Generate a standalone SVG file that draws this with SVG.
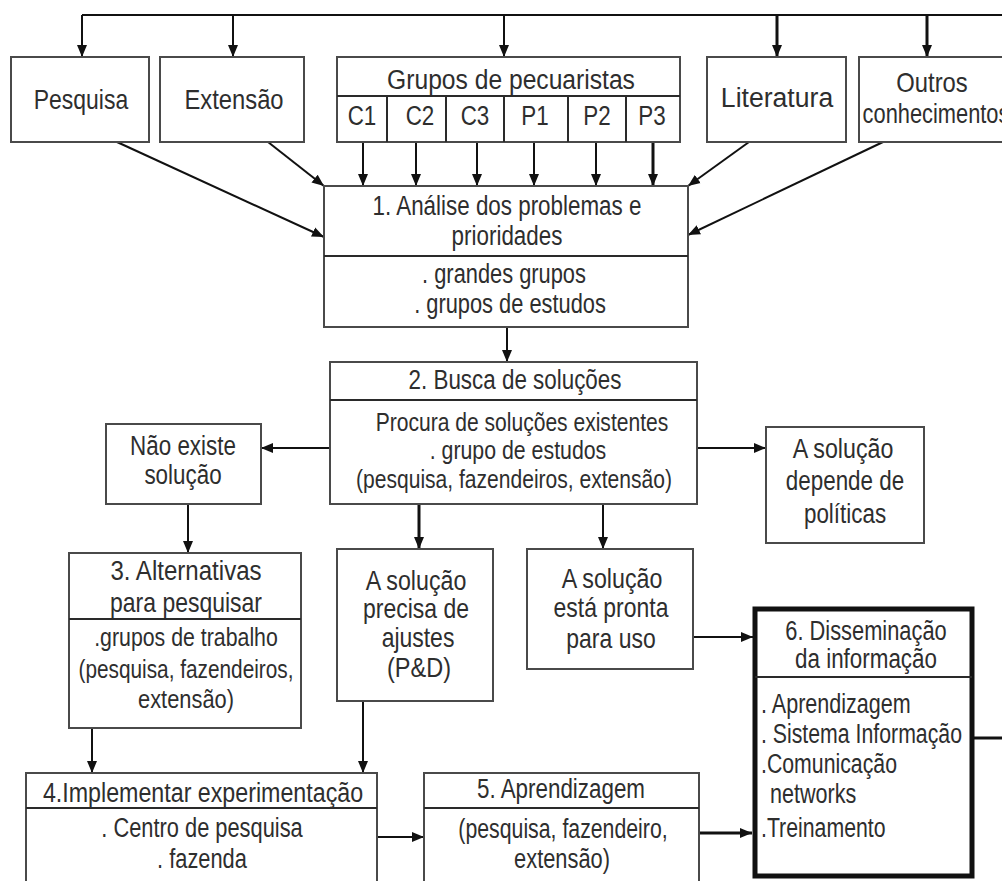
<svg xmlns="http://www.w3.org/2000/svg" width="1002" height="881" viewBox="0 0 1002 881">
<style>
.b{fill:#fff;stroke:#4a4a4a;stroke-width:2}
.d{stroke:#2a2a2a;stroke-width:2;fill:none}
.t{font-family:"Liberation Sans",Arial,sans-serif;font-size:28px;fill:#2e2e2e;text-anchor:middle}
.s{font-size:26px}
.l{text-anchor:start}
.c{stroke:#111;stroke-width:2;fill:none}
.a{marker-end:url(#ah)}
.k{stroke-width:3}
</style>
<defs>
<marker id="ah" markerUnits="userSpaceOnUse" markerWidth="12" markerHeight="12" viewBox="0 0 12 12" refX="12" refY="6" orient="auto">
<path d="M0,1 L12,6 L0,11 Z" fill="#111"/>
</marker>
</defs>
<rect width="1002" height="881" fill="#fff"/>

<g id="connectors">
<path class="c" d="M82 15 H1002"/>
<path class="c a" d="M82 15 V57"/>
<path class="c a" d="M233 15 V57"/>
<path class="c a" d="M504 15 V57"/>
<path class="c a k" d="M777 15 V57"/>
<path class="c a k" d="M927 15 V57"/>
<path class="c a" d="M363 142 V186"/>
<path class="c a" d="M416 142 V186"/>
<path class="c a" d="M477 142 V186"/>
<path class="c a" d="M534 142 V186"/>
<path class="c a" d="M596 142 V186"/>
<path class="c a k" d="M653 142 V186"/>
<path class="c a" d="M117 142 L324 237"/>
<path class="c a" d="M268 142 L324 186"/>
<path class="c a" d="M749 142 L688 186"/>
<path class="c a" d="M883 142 L688 235"/>
<path class="c a" d="M507 327 V362"/>
<path class="c a" d="M330 448 H261"/>
<path class="c a" d="M697 448 H766"/>
<path class="c a" d="M188 504 V553"/>
<path class="c a k" d="M419 504 V549"/>
<path class="c a" d="M603 504 V549"/>
<path class="c a" d="M693 637 H753"/>
<path class="c a" d="M92 728 V773"/>
<path class="c a" d="M363 701 V773"/>
<path class="c a" d="M378 837 H424"/>
<path class="c a k" d="M699 833 H752"/>
<path class="c k" d="M974 738 H1002"/>
</g>

<g id="pesquisa">
<rect class="b" x="11" y="57" width="138" height="85"/>
<text class="t" transform="translate(81,109) scale(.82,1)">Pesquisa</text>
</g>
<g id="extensao">
<rect class="b" x="160" y="57" width="144" height="85"/>
<text class="t" transform="translate(234,109) scale(.85,1)">Extensão</text>
</g>
<g id="grupos">
<rect class="b" x="337" y="57" width="343" height="85"/>
<path class="d" d="M337 96 H680 M387 96 V142 M504 96 V142 M568 96 V142 M626 96 V142"/>
<path class="d" d="M446 96 V142" stroke-width="3"/>
<text class="t" transform="translate(511,89) scale(.88,1)">Grupos de pecuaristas</text>
<text class="t" transform="translate(362,125) scale(.8,1)">C1</text>
<text class="t" transform="translate(420,125) scale(.8,1)">C2</text>
<text class="t" transform="translate(475,125) scale(.8,1)">C3</text>
<text class="t" transform="translate(535,125) scale(.8,1)">P1</text>
<text class="t" transform="translate(597,125) scale(.8,1)">P2</text>
<text class="t" transform="translate(652,125) scale(.8,1)">P3</text>
</g>
<g id="literatura">
<rect class="b" x="707" y="57" width="139" height="85"/>
<text class="t" transform="translate(777,107) scale(.95,1)">Literatura</text>
</g>
<g id="outros">
<rect class="b" x="859" y="57" width="160" height="85"/>
<text class="t" transform="translate(932,92) scale(.85,1)">Outros</text>
<text class="t" transform="translate(936,123) scale(.78,1)">conhecimentos</text>
</g>

<g id="box1">
<rect class="b" x="324" y="186" width="364" height="141"/>
<path class="d" d="M324 256 H688"/>
<text class="t" transform="translate(507,215) scale(.8,1)">1. Análise dos problemas e</text>
<text class="t" transform="translate(507,245) scale(.8,1)">prioridades</text>
<text class="t" transform="translate(504,283) scale(.78,1)">. grandes grupos</text>
<text class="t" transform="translate(510,313) scale(.78,1)">. grupos de estudos</text>
</g>

<g id="box2">
<rect class="b" x="330" y="362" width="367" height="142"/>
<path class="d" d="M330 400 H697"/>
<text class="t" transform="translate(515,389) scale(.8,1)">2. Busca de soluções</text>
<text class="t s" transform="translate(522,431) scale(.81,1)">Procura de soluções existentes</text>
<text class="t s" transform="translate(518,459) scale(.82,1)">. grupo de estudos</text>
<text class="t s" transform="translate(514,488) scale(.81,1)">(pesquisa, fazendeiros, extensão)</text>
</g>

<g id="nao-existe">
<rect class="b" x="106" y="424" width="155" height="80"/>
<text class="t" transform="translate(183,455) scale(.8,1)">Não existe</text>
<text class="t" transform="translate(183,484) scale(.8,1)">solução</text>
</g>

<g id="depende">
<rect class="b" x="766" y="427" width="158" height="116"/>
<text class="t" transform="translate(843,458) scale(.83,1)">A solução</text>
<text class="t" transform="translate(845,490) scale(.8,1)">depende de</text>
<text class="t" transform="translate(845,523) scale(.8,1)">políticas</text>
</g>

<g id="box3">
<rect class="b" x="69" y="553" width="232" height="175"/>
<path class="d" d="M69 619 H301" stroke-width="4"/>
<text class="t" transform="translate(186,580) scale(.86,1)">3. Alternativas</text>
<text class="t" transform="translate(186,612) scale(.82,1)">para pesquisar</text>
<text class="t s" transform="translate(186,646) scale(.82,1)">.grupos de trabalho</text>
<text class="t s" transform="translate(186,678) scale(.8,1)">(pesquisa, fazendeiros,</text>
<text class="t s" transform="translate(186,708) scale(.84,1)">extensão)</text>
</g>

<g id="precisa">
<rect class="b" x="337" y="549" width="156" height="152"/>
<text class="t" transform="translate(416,590) scale(.83,1)">A solução</text>
<text class="t" transform="translate(416,618) scale(.82,1)">precisa de</text>
<text class="t" transform="translate(418,647) scale(.82,1)">ajustes</text>
<text class="t" transform="translate(419,677) scale(.84,1)" font-size="25">(P&amp;D)</text>
</g>

<g id="pronta">
<rect class="b" x="527" y="549" width="166" height="120"/>
<text class="t" transform="translate(612,588) scale(.83,1)">A solução</text>
<text class="t" transform="translate(611,617) scale(.82,1)">está pronta</text>
<text class="t" transform="translate(611,648) scale(.82,1)">para uso</text>
</g>

<g id="box6">
<rect x="755" y="609" width="217" height="267" fill="#fff" stroke="#111" stroke-width="5"/>
<path class="d" d="M755 677 H972"/>
<text class="t" transform="translate(866,640) scale(.78,1)">6. Disseminação</text>
<text class="t" transform="translate(866,668) scale(.8,1)">da informação</text>
<text class="t l" transform="translate(761,713) scale(.77,1)">. Aprendizagem</text>
<text class="t l" transform="translate(761,743) scale(.76,1)">. Sistema Informação</text>
<text class="t l" transform="translate(761,773) scale(.76,1)">.Comunicação</text>
<text class="t l" transform="translate(770,803) scale(.77,1)">networks</text>
<text class="t l" transform="translate(761,837) scale(.76,1)">.Treinamento</text>
</g>

<g id="box4">
<rect class="b" x="26" y="773" width="351" height="120"/>
<path class="d" d="M26 808 H377"/>
<text class="t" transform="translate(203,802) scale(.83,1)">4.Implementar experimentação</text>
<text class="t" transform="translate(202,837) scale(.78,1)">. Centro de pesquisa</text>
<text class="t" transform="translate(202,868) scale(.78,1)">. fazenda</text>
</g>

<g id="box5">
<rect class="b" x="424" y="773" width="275" height="120"/>
<path class="d" d="M424 808 H699"/>
<text class="t" transform="translate(561,798) scale(.8,1)">5. Aprendizagem</text>
<text class="t" transform="translate(563,838) scale(.76,1)">(pesquisa, fazendeiro,</text>
<text class="t" transform="translate(562,868) scale(.78,1)">extensão)</text>
</g>
</svg>
